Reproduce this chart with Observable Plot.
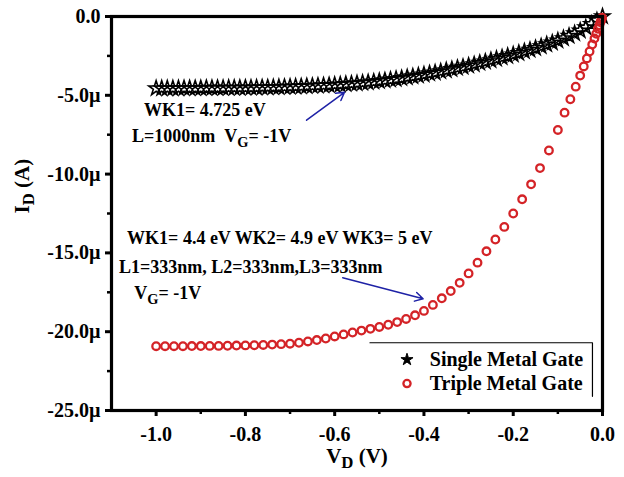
<!DOCTYPE html>
<html>
<head>
<meta charset="utf-8">
<script src="https://cdn.jsdelivr.net/npm/d3@7"></script>
<script src="https://cdn.jsdelivr.net/npm/@observablehq/plot@0.6"></script>
<style>
  html, body { margin: 0; padding: 0; background: #fff; }
  #chart { width: 624px; height: 477px; }
</style>
</head>
<body>
<div id="chart"></div>
<script>
// ---- axis ticks ----
const VD_TICKS = [-1.0, -0.8, -0.6, -0.4, -0.2, 0.0];
const VD_MINOR = [-0.9, -0.7, -0.5, -0.3, -0.1];
const ID_TICKS = [-25, -20, -15, -10, -5, 0];
const ID_MINOR = [-22.5, -17.5, -12.5, -7.5, -2.5];

// ---- Single Metal Gate (VD in V, ID in µA) ----
const single_vd = [-1.0000,-0.9875,-0.9750,-0.9625,-0.9500,-0.9375,-0.9250,-0.9125,-0.9000,-0.8875,
  -0.8750,-0.8625,-0.8500,-0.8375,-0.8250,-0.8125,-0.8000,-0.7875,-0.7750,-0.7625,
  -0.7500,-0.7375,-0.7250,-0.7125,-0.7000,-0.6875,-0.6750,-0.6625,-0.6500,-0.6375,
  -0.6250,-0.6125,-0.6000,-0.5875,-0.5750,-0.5625,-0.5500,-0.5375,-0.5250,-0.5125,
  -0.5000,-0.4875,-0.4750,-0.4625,-0.4500,-0.4375,-0.4250,-0.4125,-0.4000,-0.3875,
  -0.3750,-0.3625,-0.3500,-0.3375,-0.3250,-0.3125,-0.3000,-0.2875,-0.2750,-0.2625,
  -0.2500,-0.2375,-0.2250,-0.2125,-0.2000,-0.1875,-0.1750,-0.1625,-0.1500,-0.1375,
  -0.1250,-0.1125,-0.1000,-0.0875,-0.0750,-0.0625,-0.0500,-0.0375,-0.0250,-0.0125,0.0000];
const single_id = [-4.56,-4.56,-4.56,-4.56,-4.56,-4.55,-4.55,-4.55,-4.55,-4.54,
  -4.54,-4.54,-4.54,-4.53,-4.53,-4.53,-4.52,-4.52,-4.51,-4.50,
  -4.50,-4.49,-4.48,-4.47,-4.46,-4.45,-4.44,-4.42,-4.41,-4.39,
  -4.38,-4.36,-4.34,-4.32,-4.29,-4.27,-4.24,-4.21,-4.18,-4.14,
  -4.10,-4.06,-4.01,-3.97,-3.92,-3.86,-3.81,-3.75,-3.69,-3.62,
  -3.56,-3.49,-3.42,-3.35,-3.27,-3.20,-3.12,-3.04,-2.95,-2.87,
  -2.78,-2.69,-2.60,-2.51,-2.42,-2.32,-2.22,-2.12,-2.01,-1.90,
  -1.78,-1.66,-1.53,-1.39,-1.24,-1.08,-0.90,-0.70,-0.48,-0.25,0.00];

// ---- Triple Metal Gate (VD in V, ID in µA) ----
const triple_vd = [-1.00,-0.98,-0.96,-0.94,-0.92,-0.90,-0.88,-0.86,-0.84,-0.82,
  -0.80,-0.78,-0.76,-0.74,-0.72,-0.70,-0.68,-0.66,-0.64,-0.62,
  -0.60,-0.58,-0.56,-0.54,-0.52,-0.50,-0.48,-0.46,-0.44,-0.42,
  -0.40,-0.38,-0.36,-0.34,-0.32,-0.30,-0.28,-0.26,-0.24,-0.22,
  -0.20,-0.18,-0.16,-0.14,-0.12,-0.10,-0.085,-0.072,-0.060,-0.050,
  -0.042,-0.035,-0.029,-0.023,-0.018,-0.014,-0.010,-0.007,-0.0045,-0.0025,-0.001];
const triple_id = [-20.92,-20.92,-20.92,-20.92,-20.91,-20.91,-20.90,-20.90,-20.89,-20.88,
  -20.87,-20.86,-20.84,-20.82,-20.79,-20.76,-20.70,-20.62,-20.53,-20.43,
  -20.30,-20.17,-20.05,-19.93,-19.82,-19.70,-19.56,-19.39,-19.19,-18.96,
  -18.68,-18.30,-17.88,-17.42,-16.90,-16.30,-15.62,-14.90,-14.15,-13.35,
  -12.50,-11.60,-10.65,-9.62,-8.50,-7.20,-6.10,-5.25,-4.45,-3.75,
  -3.17,-2.66,-2.22,-1.78,-1.40,-1.09,-0.78,-0.55,-0.35,-0.19,-0.08];

// ---- annotations (text, anchor in data coords) ----
const NOTE_TEXT = ["WK1= 4.725 eV", "L=1000nm\u00a0\u00a0V_G= -1V",
  "WK1= 4.4 eV WK2= 4.9 eV WK3= 5 eV", "L1=333nm, L2=333nm,L3=333nm", "V_G= -1V"];
const NOTE_VD = [-1.027, -1.054, -1.065, -1.083, -1.049];
const NOTE_ID = [-5.95, -7.59, -14.05, -15.89, -17.53];

// ---- arrows ----
const ARROW_VD1 = [-0.663, -0.582];
const ARROW_ID1 = [-6.58, -16.58];
const ARROW_VD2 = [-0.578, -0.402];
const ARROW_ID2 = [-4.81, -17.91];

// ---- legend ----
const LEGEND_LABELS = ["Single Metal Gate", "Triple Metal Gate"];
const LEGEND_SYMBOL_VD = -0.438;
const LEGEND_TEXT_VD = -0.387;
const LEGEND_ID = [-21.77, -23.29];
const LEGEND_BOX_VD = [-0.521, -0.0225, -0.0225];
const LEGEND_BOX_ID = [-20.7, -20.7, -24.1];

const X_LABEL = "V_D (V)";
const Y_LABEL = "I_D (A)";

const single = single_vd.map((v, i) => ({vd: v, id: single_id[i]}));
const triple = triple_vd.map((v, i) => ({vd: v, id: triple_id[i]}));
const notes = NOTE_TEXT.map((t, i) => ({t, vd: NOTE_VD[i], id: NOTE_ID[i]}));
const arrows = ARROW_VD1.map((v, i) => ({x1: v, y1: ARROW_ID1[i], x2: ARROW_VD2[i], y2: ARROW_ID2[i]}));
const legendBox = LEGEND_BOX_VD.map((v, i) => ({vd: v, id: LEGEND_BOX_ID[i]}));

const RED = "#d42327";
const BLUE = "#1e22a6";
const FONT = "'Liberation Serif', 'Times New Roman', serif";

const plot = Plot.plot({
  width: 624,
  height: 477,
  marginLeft: 111,
  marginRight: 22,
  marginTop: 16,
  marginBottom: 67,
  style: {fontFamily: FONT, fontWeight: "bold", background: "white", color: "black", overflow: "visible"},
  x: {domain: [-1.1, 0]},
  y: {domain: [-25, 0]},
  marks: [
    Plot.axisX(VD_TICKS, {tickSize: 6, strokeWidth: 3, tickPadding: 10, fontSize: 20, fontWeight: "bold",
      tickFormat: d => d.toFixed(1), label: null}),
    Plot.axisX(VD_MINOR, {tickSize: 4, strokeWidth: 2.5, text: null, label: null}),
    Plot.axisY(ID_TICKS, {tickSize: 6, strokeWidth: 3, tickPadding: 5, fontSize: 20, fontWeight: "bold",
      tickFormat: d => d === 0 ? "0.0" : d.toFixed(1) + "\u00b5", label: null}),
    Plot.axisY(ID_MINOR, {tickSize: 4, strokeWidth: 2.5, text: null, label: null}),
    Plot.text([X_LABEL], {frameAnchor: "bottom", dy: 52, fontSize: 21, fontWeight: "bold"}),
    Plot.text([Y_LABEL], {frameAnchor: "left", rotate: -90, dx: -89, fontSize: 21, fontWeight: "bold"}),
    Plot.dot(single, {x: "vd", y: "id", symbol: "star", r: 4.6, stroke: "black", strokeWidth: 1.6, fill: "none"}),
    Plot.dot(triple, {x: "vd", y: "id", symbol: "circle", r: 3.8, stroke: RED, strokeWidth: 2.3, fill: "none"}),
    Plot.text(notes, {x: "vd", y: "id", text: "t", textAnchor: "start", fontSize: 18, fontWeight: "bold"}),
    Plot.arrow(arrows, {x1: "x1", y1: "y1", x2: "x2", y2: "y2", stroke: BLUE, strokeWidth: 1.5, headLength: 9}),
    Plot.line(legendBox, {x: "vd", y: "id", stroke: "black", strokeWidth: 1.2}),
    Plot.dot([LEGEND_ID[0]], {x: () => LEGEND_SYMBOL_VD, y: d => d, symbol: "star", r: 3.8, fill: "black", stroke: "black", strokeWidth: 1}),
    Plot.dot([LEGEND_ID[1]], {x: () => LEGEND_SYMBOL_VD, y: d => d, symbol: "circle", r: 3.6, stroke: RED, strokeWidth: 2.3, fill: "none"}),
    Plot.text(LEGEND_LABELS, {x: () => LEGEND_TEXT_VD, y: (d, i) => LEGEND_ID[i], text: d => d, textAnchor: "start", fontSize: 20, fontWeight: "bold"}),
    Plot.frame({stroke: "black", strokeWidth: 3.2})
  ]
});

// subscripts: "X_Y" -> X with subscript Y
const NS = "http://www.w3.org/2000/svg";
d3.select(plot).selectAll("text").each(function() {
  const s = this.textContent;
  if (!s.includes("_") || this.querySelector("tspan")) return;
  const parts = s.split(/_(.)/);
  this.textContent = "";
  parts.forEach((p, i) => {
    const t = document.createElementNS(NS, "tspan");
    t.textContent = p;
    if (i % 2 === 1) { t.setAttribute("dy", "5"); t.setAttribute("font-size", "0.8em"); }
    else if (i > 0) { t.setAttribute("dy", "-5"); }
    this.appendChild(t);
  });
});

document.getElementById("chart").appendChild(plot);
</script>
</body>
</html>
